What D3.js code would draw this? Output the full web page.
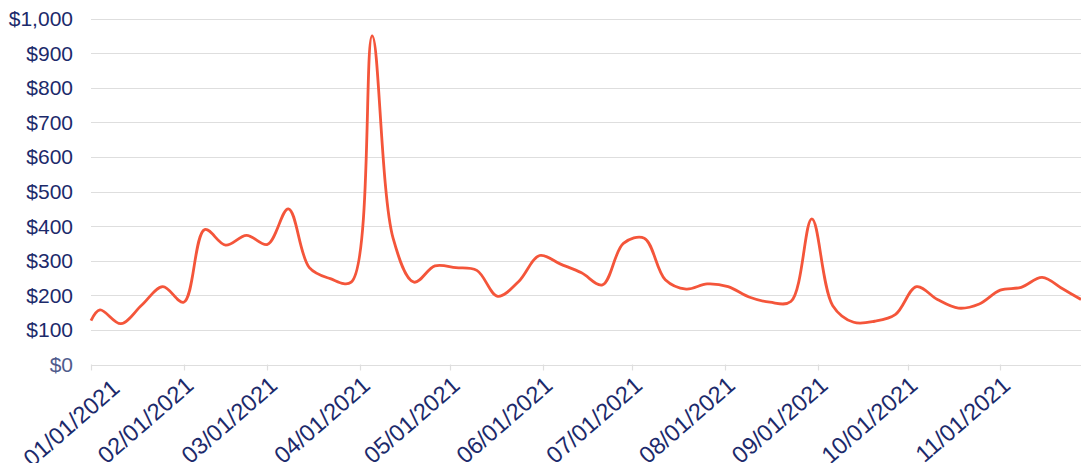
<!DOCTYPE html>
<html>
<head>
<meta charset="utf-8">
<script src="https://cdn.jsdelivr.net/npm/d3@7"></script>
<style>
  html, body { margin: 0; padding: 0; background: #ffffff; }
  svg { display: block; }
</style>
</head>
<body>
<svg id="chart" width="1081" height="463"></svg>
<script>
// ---- data ----
const dates = [
  "2021-01-01","2021-01-04","2021-01-11","2021-01-18","2021-01-25","2021-02-01","2021-02-08","2021-02-15",
  "2021-02-22","2021-03-01","2021-03-08","2021-03-15","2021-03-22","2021-03-29","2021-04-05","2021-04-12",
  "2021-04-19","2021-04-26","2021-05-03","2021-05-10","2021-05-17","2021-05-24","2021-05-31","2021-06-07",
  "2021-06-14","2021-06-21","2021-06-28","2021-07-05","2021-07-12","2021-07-19","2021-07-26","2021-08-02",
  "2021-08-09","2021-08-16","2021-08-23","2021-08-30","2021-09-06","2021-09-13","2021-09-20","2021-09-27",
  "2021-10-04","2021-10-11","2021-10-18","2021-10-25","2021-11-01","2021-11-08","2021-11-15","2021-11-22",
  "2021-11-28"
];
const values = [
  127, 158, 118, 172, 225, 180, 390, 345,
  373, 347, 450, 280, 248, 238, 950, 365,
  238, 285, 280, 272, 197, 240, 315, 290,
  265, 230, 350, 365, 245, 218, 233, 225,
  195, 180, 182, 421, 170, 122, 125, 145,
  225, 188, 163, 175, 215, 223, 252, 218,
  188
];
const yTicks = [0, 100, 200, 300, 400, 500, 600, 700, 800, 900, 1000];
const xTickLabels = ["01/01/2021","02/01/2021","03/01/2021","04/01/2021","05/01/2021","06/01/2021",
                     "07/01/2021","08/01/2021","09/01/2021","10/01/2021","11/01/2021"];

// ---- layout ----
const svg = d3.select("#chart");
const plotLeft = 91, plotRight = 1081, plotTop = 18.5, plotBottom = 364.5;
const parse = d3.timeParse("%Y-%m-%d");
const parseTick = d3.timeParse("%m/%d/%Y");
const data = dates.map((d, i) => ({ date: parse(d), value: values[i] }));

const x = d3.scaleTime()
  .domain([parse("2021-01-01"), parse("2021-11-28")])
  .range([plotLeft, plotRight]);
const y = d3.scaleLinear().domain([0, 1000]).range([plotBottom, plotTop]);

const font = "'Liberation Sans', Arial, Helvetica, sans-serif";
const textColor = "#1c2a6b";

// gridlines
svg.append("g").selectAll("line")
  .data(yTicks)
  .join("line")
  .attr("x1", plotLeft).attr("x2", plotRight)
  .attr("y1", d => Math.round(y(d)) + 0.5).attr("y2", d => Math.round(y(d)) + 0.5)
  .attr("stroke", "#dedede").attr("stroke-width", 1.2);

// y labels
svg.append("g").selectAll("text")
  .data(yTicks)
  .join("text")
  .attr("x", 73)
  .attr("y", d => y(d))
  .attr("dy", "0.36em")
  .attr("text-anchor", "end")
  .attr("font-family", font)
  .attr("font-size", 21)
  .attr("fill", d => d === 0 ? "#4f5b8c" : textColor)
  .text(d => "$" + d3.format(",")(d));

// x ticks
const tickDates = xTickLabels.map(s => parseTick(s));
svg.append("g").selectAll("line")
  .data(tickDates)
  .join("line")
  .attr("x1", d => Math.round(x(d)) + 0.5).attr("x2", d => Math.round(x(d)) + 0.5)
  .attr("y1", plotBottom).attr("y2", plotBottom + 6)
  .attr("stroke", "#dedede").attr("stroke-width", 1.2);

// x labels
svg.append("g").selectAll("text")
  .data(tickDates)
  .join("text")
  .attr("transform", (d, i) => `translate(${x(d) + (i === 0 ? 30 : 11.5)},${i === 0 ? 390.5 : 387.5}) rotate(-41)`)
  .attr("text-anchor", "end")
  .attr("font-family", font)
  .attr("font-size", 23.5)
  .attr("fill", textColor)
  .text((d, i) => xTickLabels[i]);

// line
const line = d3.line()
  .x(d => x(d.date))
  .y(d => y(d.value))
  .curve(d3.curveCatmullRom.alpha(0.5));

svg.append("path")
  .datum(data)
  .attr("fill", "none")
  .attr("stroke", "#f4553a")
  .attr("stroke-width", 2.8)
  .attr("stroke-linejoin", "round")
  .attr("d", line);
</script>
</body>
</html>
